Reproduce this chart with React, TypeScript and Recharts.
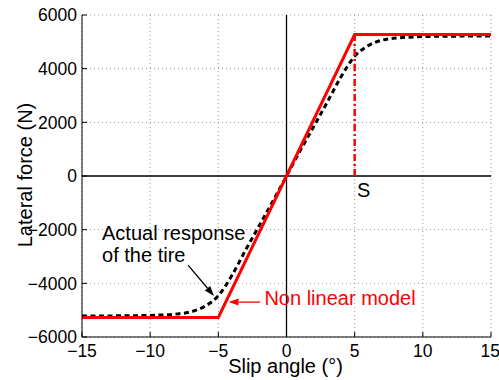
import {
  LineChart, Line, XAxis, YAxis, CartesianGrid, ReferenceLine, ReferenceDot,
} from 'recharts';

// piecewise linear model
const modelX = [-15, -5, 5, 15];
const modelY = [-5270, -5270, 5270, 5270];

// actual tire response (dashed)
const tireX = [-15, -12, -10, -9, -8, -7, -6, -5, -4, -3, -2, -1, 0, 1, 2, 3, 4, 5, 6, 7, 8, 9, 10, 12, 15];
const tireY = [-5220, -5210, -5195, -5175, -5140, -5060, -4860, -4460, -3700, -2760, -1850, -940, 0,
  940, 1850, 2760, 3700, 4460, 4860, 5060, 5140, 5175, 5195, 5210, 5220];

// saturation marker S
const satX = [5, 5];
const satY = [0, 5270];

const xTicks = [-15, -10, -5, 0, 5, 10, 15];
const yTicks = [-6000, -4000, -2000, 0, 2000, 4000, 6000];

// annotations (data coords)
const notes = [
  { x: -13.53, y: -2390, text: 'Actual response', color: '#000' },
  { x: -13.53, y: -3210, text: 'of the tire', color: '#000' },
  { x: -1.62, y: -4810, text: 'Non linear model', color: '#ff0000' },
  { x: 5.17, y: -790, text: 'S', color: '#000' },
];
const arrows = [
  { from: [-7.22, -3320], to: [-5.32, -4470], color: '#000' },
  { from: [-1.94, -4700], to: [-4.25, -4700], color: '#ff0000' },
];

const FONT = '"Liberation Sans", Arial, Helvetica, sans-serif';
const toPts = (xs: number[], ys: number[]) => xs.map((x, i) => ({ x, y: ys[i] }));
const minus = (v: number) => String(v).replace('-', '\u2212');

const Arrow = (props: any) => {
  const { x1, y1, x2, y2, color } = props;
  const a = Math.atan2(y2 - y1, x2 - x1);
  const len = 10, hw = 3.5;
  const bx = x2 - len * Math.cos(a), by = y2 - len * Math.sin(a);
  const p1 = `${bx + hw * Math.sin(a)},${by - hw * Math.cos(a)}`;
  const p2 = `${bx - hw * Math.sin(a)},${by + hw * Math.cos(a)}`;
  return (
    <g>
      <line x1={x1} y1={y1} x2={bx} y2={by} stroke={color} strokeWidth={1.3} />
      <polygon points={`${x2},${y2} ${p1} ${p2}`} fill={color} />
    </g>
  );
};

export default function App() {
  return (
    <div style={{ position: 'fixed', left: 0, top: 0, background: '#fff' }}>
      <LineChart width={499} height={380} margin={{ top: 15, right: 8, bottom: 0, left: 0 }}
        style={{ fontFamily: FONT }}>
        <CartesianGrid stroke="#9a9a9a" strokeDasharray="1 3" />
        <XAxis dataKey="x" type="number" domain={[-15, 15]} ticks={xTicks} allowDataOverflow
          height={43} tickSize={-5} tickMargin={13} tickFormatter={minus}
          axisLine={{ stroke: '#000' }} tickLine={{ stroke: '#000' }}
          tick={{ fill: '#000', fontSize: 17.5 }}
          label={(p: any) => (
            <text x={285.5} y={373} textAnchor="middle" fontSize={20} fill="#000" fontFamily={FONT}>
              Slip angle (°)
            </text>
          )} />
        <XAxis xAxisId="top" dataKey="x" type="number" orientation="top" domain={[-15, 15]} ticks={xTicks}
          height={0} tick={false} tickSize={-5} axisLine={{ stroke: '#000' }} tickLine={{ stroke: '#000' }} />
        <YAxis type="number" domain={[-6000, 6000]} ticks={yTicks} width={82} allowDataOverflow
          tickSize={-5} tickMargin={10} tickFormatter={minus}
          axisLine={{ stroke: '#000' }} tickLine={{ stroke: '#000' }}
          tick={{ fill: '#000', fontSize: 17.5 }}
          label={(p: any) => (
            <text x={25} y={175} textAnchor="middle" dominantBaseline="central" fontSize={20} fill="#000"
              fontFamily={FONT} transform="rotate(-90 25 175)">
              Lateral force (N)
            </text>
          )} />
        <YAxis yAxisId="right" type="number" orientation="right" domain={[-6000, 6000]} ticks={yTicks}
          width={0} tick={false} tickSize={-5} axisLine={{ stroke: '#000' }} tickLine={{ stroke: '#000' }} />
        <ReferenceLine x={0} stroke="#000" strokeWidth={1.3} />
        <ReferenceLine y={0} stroke="#000" strokeWidth={1.3} />
        <Line data={toPts(tireX, tireY)} dataKey="y" type="monotone" stroke="#000" strokeWidth={3}
          strokeDasharray="5 3.5" dot={false} isAnimationActive={false} />
        <Line data={toPts(modelX, modelY)} dataKey="y" type="linear" stroke="#ff0000" strokeWidth={3}
          dot={false} isAnimationActive={false} />
        <Line data={toPts(satX, satY)} dataKey="y" type="linear" stroke="#ff0000" strokeWidth={2.5}
          strokeDasharray="7 3 2 3" dot={false} isAnimationActive={false} />
        {arrows.map((a, i) => (
          <ReferenceLine key={'a' + i} segment={[{ x: a.from[0], y: a.from[1] }, { x: a.to[0], y: a.to[1] }]}
            ifOverflow="visible" shape={(p: any) => <Arrow {...p} color={a.color} />} />
        ))}
        {notes.map((n, i) => (
          <ReferenceDot key={'n' + i} x={n.x} y={n.y} r={0} ifOverflow="visible"
            shape={(p: any) => (
              <text x={p.cx} y={p.cy} fill={n.color} fontSize={20} fontFamily={FONT}>{n.text}</text>
            )} />
        ))}
      </LineChart>
    </div>
  );
}
